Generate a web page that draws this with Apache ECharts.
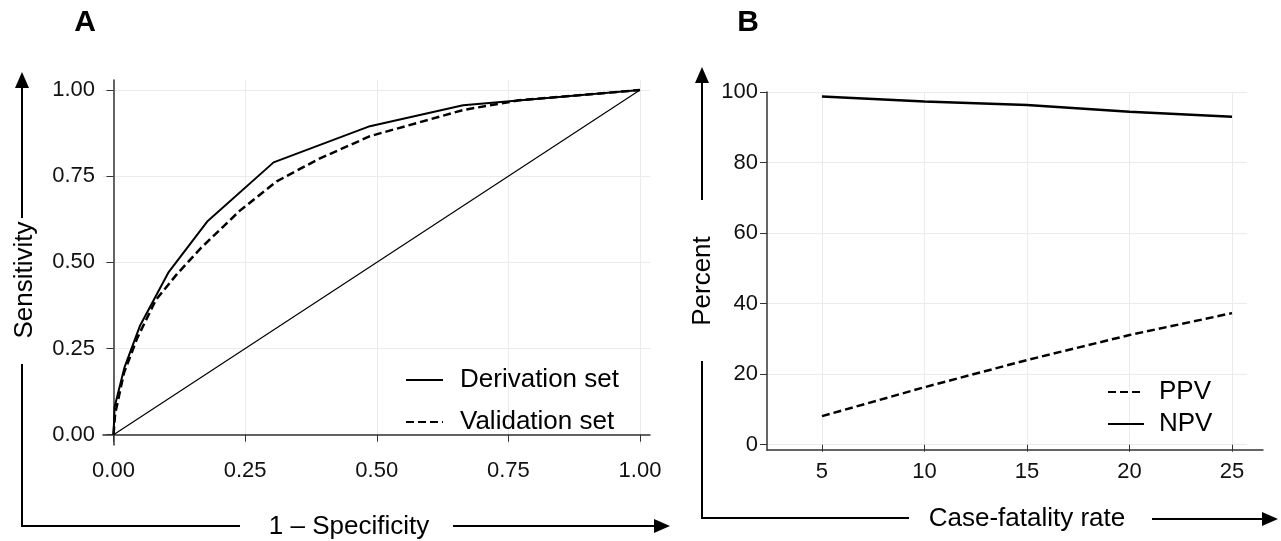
<!DOCTYPE html>
<html>
<head>
<meta charset="utf-8">
<title>ROC and predictive values</title>
<script src="https://cdn.jsdelivr.net/npm/echarts@6/dist/echarts.min.js"></script>
<style>
  html, body { margin: 0; padding: 0; background: #fff; }
  #chart { width: 1281px; height: 541px; }
</style>
</head>
<body>
<div id="chart"></div>
<script>
// panel A: ROC curves (1 - specificity, sensitivity)
var derivFpr = [0, 0.002, 0.021, 0.05, 0.104, 0.179, 0.304, 0.487, 0.664, 1]
var derivTpr = [0, 0.08, 0.196, 0.315, 0.47, 0.62, 0.79, 0.895, 0.956, 1]
var validFpr = [0, 0.003, 0.02, 0.045, 0.08, 0.12, 0.165, 0.24, 0.31, 0.39, 0.487, 0.664, 0.77, 1]
var validTpr = [0, 0.06, 0.18, 0.28, 0.39, 0.465, 0.54, 0.65, 0.735, 0.8, 0.866, 0.942, 0.97, 1]
var refLine = [0, 1]
var rocTicks = [0, 0.25, 0.5, 0.75, 1]

// panel B: PPV / NPV vs case-fatality rate
var caseFatality = [5, 10, 15, 20, 25]
var ppv = [8.1, 16.3, 24.0, 31.1, 37.3]
var npv = [98.7, 97.3, 96.3, 94.4, 93.0]
var rateTicks = [5, 10, 15, 20, 25]
var percentTicks = [0, 20, 40, 60, 80, 100]

var FONT = 'Liberation Sans, Arial, sans-serif'

function zip(xs, ys) {
  return xs.map(function(x, i) { return [x, ys[i]] })
}

var chart = echarts.init(document.getElementById('chart'))

var axisLine = { show: true, lineStyle: { color: '#333', width: 1.5 } }
var gridLine = { show: true, lineStyle: { color: '#ebebeb', width: 1 } }
var labelStyle = { color: '#111', fontSize: 22, fontFamily: FONT }

function arrowUp(x, y) {
  return { type: 'polygon', shape: { points: [[x, y], [x - 7, y + 16], [x + 7, y + 16]] }, style: { fill: '#000' } }
}
function arrowRight(x, y) {
  return { type: 'polygon', shape: { points: [[x, y], [x - 16, y - 7], [x - 16, y + 7]] }, style: { fill: '#000' } }
}
function seg(pts) {
  return { type: 'polyline', shape: { points: pts }, style: { stroke: '#000', lineWidth: 2, fill: null } }
}
function title(txt, x, y, rot, opts) {
  opts = opts || {}
  return {
    type: 'text', x: x, y: y, rotation: rot || 0,
    style: {
      text: txt, align: 'center', verticalAlign: 'middle', fill: '#000',
      fontSize: opts.size || 26, fontWeight: opts.weight || 'normal', fontFamily: FONT
    }
  }
}

var option = {
  animation: false,
  backgroundColor: '#fff',
  grid: [
    { left: 103, top: 80, width: 547, height: 365 },
    { left: 767, top: 92, width: 480, height: 358 },
    { left: 767, top: 92, width: 496, height: 358 }
  ],
  legend: [
    {
      data: ['Derivation set', 'Validation set'],
      orient: 'vertical', left: 405, top: 367, padding: 0,
      itemWidth: 37, itemHeight: 14, itemGap: 16,
      itemStyle: { opacity: 0 },
      textStyle: { fontSize: 26, fontFamily: FONT, color: '#000', padding: [0, 0, 0, 12] }
    },
    {
      data: ['PPV', 'NPV'],
      orient: 'vertical', left: 1107, top: 379, padding: 0,
      itemWidth: 36, itemHeight: 14, itemGap: 6,
      itemStyle: { opacity: 0 },
      textStyle: { fontSize: 26, fontFamily: FONT, color: '#000', padding: [0, 0, 0, 10] }
    }
  ],
  xAxis: [
    {
      type: 'value', gridIndex: 0, min: -0.02, max: 1.019,
      axisLine: axisLine,
      axisTick: { show: true, customValues: rocTicks, length: 7, lineStyle: { color: '#333' } },
      axisLabel: Object.assign({ customValues: rocTicks, margin: 15, formatter: function(v) { return v.toFixed(2) } }, labelStyle),
      splitLine: gridLine
    },
    {
      type: 'value', gridIndex: 1, min: 2.32, max: 25.73,
      axisLine: { show: false },
      axisTick: { show: true, customValues: rateTicks, length: 7, lineStyle: { color: '#333' } },
      axisLabel: Object.assign({ customValues: rateTicks, margin: 11 }, labelStyle),
      splitLine: gridLine
    },
    {
      type: 'value', gridIndex: 2, min: 0, max: 1,
      axisLine: axisLine, axisTick: { show: false }, axisLabel: { show: false }, splitLine: { show: false }
    }
  ],
  yAxis: [
    {
      type: 'value', gridIndex: 0, min: -0.03, max: 1.029,
      axisLine: axisLine,
      axisTick: { show: true, customValues: rocTicks, length: 7, lineStyle: { color: '#333' } },
      axisLabel: Object.assign({ customValues: rocTicks, margin: 8, formatter: function(v) { return v.toFixed(2) } }, labelStyle),
      splitLine: gridLine
    },
    {
      type: 'value', gridIndex: 1, min: -1.5, max: 100,
      axisLine: axisLine,
      axisTick: { show: true, customValues: percentTicks, length: 7, lineStyle: { color: '#333' } },
      axisLabel: Object.assign({ customValues: percentTicks, margin: 9 }, labelStyle),
      splitLine: gridLine
    },
    { type: 'value', gridIndex: 2, min: 0, max: 1, show: false }
  ],
  series: [
    {
      name: 'Reference', type: 'line', xAxisIndex: 0, yAxisIndex: 0,
      data: zip(refLine, refLine), symbol: 'none',
      lineStyle: { color: '#000', width: 1.2 }
    },
    {
      name: 'Derivation set', type: 'line', xAxisIndex: 0, yAxisIndex: 0,
      data: zip(derivFpr, derivTpr), symbol: 'none',
      lineStyle: { color: '#000', width: 2 }, itemStyle: { color: '#000' }
    },
    {
      name: 'Validation set', type: 'line', xAxisIndex: 0, yAxisIndex: 0,
      data: zip(validFpr, validTpr), symbol: 'none',
      lineStyle: { color: '#000', width: 2.5, type: [8, 4] }, itemStyle: { color: '#000' }
    },
    {
      name: 'PPV', type: 'line', xAxisIndex: 1, yAxisIndex: 1,
      data: zip(caseFatality, ppv), symbol: 'none',
      lineStyle: { color: '#000', width: 2.5, type: [8, 4] }, itemStyle: { color: '#000' }
    },
    {
      name: 'NPV', type: 'line', xAxisIndex: 1, yAxisIndex: 1,
      data: zip(caseFatality, npv), symbol: 'none',
      lineStyle: { color: '#000', width: 2.5 }, itemStyle: { color: '#000' }
    }
  ],
  graphic: [
    title('A', 85, 23, 0, { size: 30, weight: 'bold' }),
    title('B', 748, 23, 0, { size: 30, weight: 'bold' }),
    // panel A axis titles with arrows
    arrowUp(22, 72),
    seg([[22, 86], [22, 218]]),
    title('Sensitivity', 25, 280, Math.PI / 2),
    seg([[22, 364], [22, 526], [240, 526]]),
    title('1 \u2013 Specificity', 349, 527),
    seg([[453, 526], [656, 526]]),
    arrowRight(670, 526),
    // panel B axis titles with arrows
    arrowUp(702, 67),
    seg([[702, 81], [702, 200]]),
    title('Percent', 703, 281, Math.PI / 2),
    seg([[702, 361], [702, 518], [909, 518]]),
    title('Case-fatality rate', 1027, 519),
    seg([[1152, 519], [1264, 519]]),
    arrowRight(1278, 519)
  ]
}

chart.setOption(option)
window.addEventListener('resize', function() { chart.resize() })
</script>
</body>
</html>
